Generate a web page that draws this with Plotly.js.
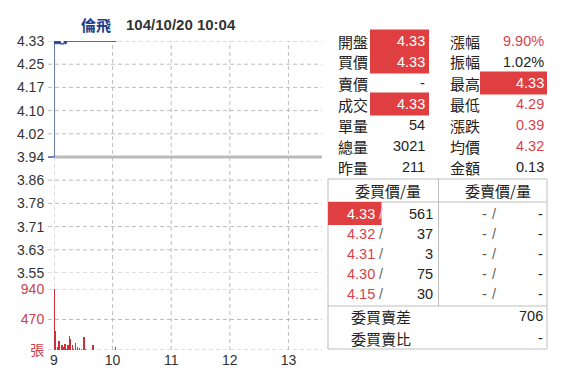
<!DOCTYPE html>
<html>
<head>
<meta charset="utf-8">
<script src="https://cdn.plot.ly/plotly-3.0.1.min.js"></script>
<style>
  html, body { margin: 0; padding: 0; background: #fff; }
  #chart { width: 579px; height: 374px; }
</style>
</head>
<body>
<div id="chart"></div>
<script>
// ---------------- data ----------------
const stockName = '倫飛';
const stamp = '104/10/20 10:04';
const prevClose = 3.94;
const limitUp = 4.33;

const hourTicks = [9, 10, 11, 12, 13];
const priceTicks = [3.55, 3.628, 3.706, 3.784, 3.862, 3.94, 4.018, 4.096, 4.174, 4.252, 4.33];
const priceTickLabels = ['3.55', '3.63', '3.71', '3.78', '3.86', '3.94', '4.02', '4.10', '4.17', '4.25', '4.33'];
const volTicks = [0, 470, 940];
const volTickLabels = ['張', '470', '940'];

// intraday price (time hh:mm, price)
const priceTimes = ['9:00', '9:00', '9:01', '9:02', '9:03', '9:04', '9:05', '9:06', '9:07', '9:08', '9:09', '9:10', '9:11', '9:12', '9:13', '10:04'];
const priceValues = [3.94, 4.33, 4.32, 4.33, 4.32, 4.33, 4.32, 4.33, 4.32, 4.32, 4.32, 4.32, 4.33, 4.32, 4.33, 4.33];

// per-minute volume (張)
const volTimes = ['9:00', '9:01', '9:04', '9:05', '9:08', '9:09', '9:11', '9:13', '9:14', '9:16', '9:17', '9:19', '9:20', '9:22', '9:24', '9:26', '9:28', '9:31', '9:32', '9:40', '10:03'];
const volValues = [940, 290, 40, 135, 80, 50, 85, 20, 70, 215, 165, 75, 20, 110, 50, 25, 15, 195, 15, 80, 54];

// quote panel
const quoteLabelsL = ['開盤', '買價', '賣價', '成交', '單量', '總量', '昨量'];
const quoteValuesL = ['4.33', '4.33', '-', '4.33', '54', '3021', '211'];
const quoteKindsL = ['price', 'price', 'price', 'price', 'other', 'other', 'other'];
const quoteLabelsR = ['漲幅', '振幅', '最高', '最低', '漲跌', '均價', '金額'];
const quoteValuesR = ['9.90%', '1.02%', '4.33', '4.29', '0.39', '4.32', '0.13'];
const quoteKindsR = ['change', 'other', 'price', 'price', 'change', 'price', 'other'];

const bookHeaders = ['委買價/量', '委賣價/量'];
const bidPrices = ['4.33', '4.32', '4.31', '4.30', '4.15'];
const bidVols = ['561', '37', '3', '75', '30'];
const askPrices = ['-', '-', '-', '-', '-'];
const askVols = ['-', '-', '-', '-', '-'];
const summaryLabels = ['委買賣差', '委買賣比'];
const summaryValues = ['706', '-'];

// ---------------- helpers ----------------
const toHour = s => { const [h, m] = s.split(':').map(Number); return h + m / 60; };

const L = 54, R = 322, T = 41, B = 350;
const W = R - L, H = B - T;
const px = x => (x - L) / W;
const py = y => (B - y) / H;

const RED = '#d8434b';
const BOX = '#e03f42';
const DARK = '#222';
const GRID = '#bdbdbd';
const DASH = '4px,3px';
const LINE = '#bdbdbd';
const FONT = 'Liberation Sans, Arial, Noto Sans CJK TC, sans-serif';
const CJK = 'Noto Sans CJK TC, Liberation Sans, sans-serif';

const annotations = [];
const shapes = [];

function txt(text, x, y, anchor, color, size, family, bold) {
  annotations.push({
    text: bold ? '<b>' + text + '</b>' : text,
    xref: 'paper', yref: 'paper', x: px(x), y: py(y),
    xanchor: anchor, yanchor: 'middle', showarrow: false,
    borderpad: 0,
    font: { color: color, size: size, family: family }
  });
}
function rect(x0, y0, x1, y1, fill, lineColor) {
  shapes.push({
    type: 'rect', xref: 'paper', yref: 'paper',
    x0: px(x0), x1: px(x1), y0: py(y0), y1: py(y1),
    fillcolor: fill || 'rgba(0,0,0,0)',
    line: { width: lineColor ? 1 : 0, color: lineColor || 'rgba(0,0,0,0)' },
    layer: 'above'
  });
}
function hline(x0, x1, y, color) {
  shapes.push({ type: 'line', xref: 'paper', yref: 'paper', x0: px(x0), x1: px(x1), y0: py(y), y1: py(y), line: { width: 1, color: color } });
}
function vline(x, y0, y1, color) {
  shapes.push({ type: 'line', xref: 'paper', yref: 'paper', x0: px(x), x1: px(x), y0: py(y0), y1: py(y1), line: { width: 1, color: color } });
}
function valueStyle(val, kind) {
  if (val === '-') return { color: DARK, box: false };
  const v = parseFloat(val);
  if (kind === 'price') {
    if (v === limitUp) return { color: '#ffffff', box: true };
    return { color: v > prevClose ? RED : (v < prevClose ? '#1a8a3a' : DARK), box: false };
  }
  if (kind === 'change') return { color: v > 0 ? RED : (v < 0 ? '#1a8a3a' : DARK), box: false };
  return { color: DARK, box: false };
}

// ---------------- title ----------------
txt(stockName, 80, 24, 'left', '#1f3d8c', 15, CJK, true);
txt(stamp, 125, 24, 'left', '#333333', 15, FONT, true);

// ---------------- quote panel ----------------
const rowY = i => 41 + 21 * i;
quoteLabelsL.forEach((lab, i) => {
  const y = rowY(i);
  txt(lab, 337, y, 'left', DARK, 15, CJK);
  const st = valueStyle(quoteValuesL[i], quoteKindsL[i]);
  if (st.box) rect(370, y - 11.5, 429, y + 11.5, BOX);
  txt(quoteValuesL[i], 426, y, 'right', st.color, 14.5, FONT);
});
quoteLabelsR.forEach((lab, i) => {
  const y = rowY(i);
  txt(lab, 449, y, 'left', DARK, 15, CJK);
  const st = valueStyle(quoteValuesR[i], quoteKindsR[i]);
  if (st.box) rect(480, y - 11.5, 547, y + 11.5, BOX);
  txt(quoteValuesR[i], 545, y, 'right', st.color, 14.5, FONT);
});

// ---------------- order book table ----------------
rect(328, 179, 547, 349, null, LINE);
hline(328, 547, 202, LINE);
hline(328, 547, 306, LINE);
vline(438.5, 179, 306, LINE);
txt(bookHeaders[0], 388, 190.5, 'center', DARK, 15, CJK);
txt(bookHeaders[1], 498, 190.5, 'center', DARK, 15, CJK);

bidPrices.forEach((p, i) => {
  const y = 213.5 + 20 * i;
  const st = valueStyle(p, 'price');
  if (st.box) rect(328, y - 11.5, 381.5, y + 11.5, BOX);
  txt(p, 376, y, 'right', st.color, 14.5, FONT);
  txt('/', 381, y, 'center', st.box ? '#f3d6d6' : '#666', 14.5, FONT);
  txt(bidVols[i], 434, y, 'right', DARK, 14.5, FONT);
  txt(askPrices[i], 488, y, 'right', '#555', 14.5, FONT);
  txt('/', 494, y, 'center', '#666', 14.5, FONT);
  txt(askVols[i], 544, y, 'right', DARK, 14.5, FONT);
});
summaryLabels.forEach((lab, i) => {
  const y = 316 + 22 * i;
  txt(lab, 350, y, 'left', DARK, 15, CJK);
  txt(summaryValues[i], 544, y, 'right', DARK, 14.5, FONT);
});

// ---------------- chart grid & reference line ----------------
const leftStub = -6 / W;
hourTicks.forEach(h => {
  shapes.push({
    type: 'line', xref: 'x', yref: 'paper', x0: h, x1: h, y0: 0, y1: 1,
    line: { color: GRID, width: 1, dash: DASH }, layer: 'below'
  });
});
priceTicks.forEach(v => {
  if (v === prevClose) return;
  shapes.push({
    type: 'line', xref: 'paper', yref: 'y', x0: leftStub, x1: 1, y0: v, y1: v,
    line: { color: GRID, width: 1, dash: DASH }, layer: 'below'
  });
});
volTicks.forEach(v => {
  shapes.push({
    type: 'line', xref: 'paper', yref: 'y2', x0: leftStub, x1: 1, y0: v, y1: v,
    line: { color: GRID, width: 1, dash: DASH }, layer: 'below'
  });
});
shapes.push({
  type: 'line', xref: 'paper', yref: 'y', x0: 0, x1: 1, y0: prevClose, y1: prevClose,
  line: { color: '#bbbbbb', width: 3 }, layer: 'below'
});
shapes.push({
  type: 'line', xref: 'paper', yref: 'y', x0: leftStub, x1: 0, y0: prevClose, y1: prevClose,
  line: { color: '#23408e', width: 1.3 }, layer: 'below'
});

// ---------------- traces ----------------
const priceTrace = {
  type: 'scatter', mode: 'lines',
  x: priceTimes.map(toHour), y: priceValues,
  line: { color: '#23408e', width: 1.3, shape: 'linear' },
  xaxis: 'x', yaxis: 'y', hoverinfo: 'skip'
};
const volTrace = {
  type: 'bar',
  x: volTimes.map(toHour), y: volValues,
  width: 1.7 / 60,
  marker: { color: '#cf2f38', line: { width: 0 } },
  xaxis: 'x', yaxis: 'y2', hoverinfo: 'skip'
};

const layout = {
  width: 579, height: 374,
  margin: { l: L, r: 579 - R, t: T, b: 374 - B, pad: 0 },
  paper_bgcolor: '#ffffff', plot_bgcolor: 'rgba(0,0,0,0)',
  showlegend: false,
  font: { family: FONT, size: 14, color: '#333' },
  xaxis: {
    anchor: 'y2',
    range: [9, 13.573], tickvals: hourTicks, ticktext: hourTicks.map(String),
    showgrid: false, zeroline: false, showline: false, ticks: '',
    tickfont: { size: 14, color: '#333', family: FONT }, fixedrange: true
  },
  yaxis: {
    anchor: 'x',
    domain: [py(273), 1], range: [3.55, 4.33],
    tickvals: priceTicks, ticktext: priceTickLabels,
    showgrid: false, zeroline: false, showline: false,
    ticks: 'outside', ticklen: 6, tickcolor: 'rgba(0,0,0,0)',
    tickfont: { size: 14, color: '#333', family: FONT }, fixedrange: true
  },
  yaxis2: {
    anchor: 'x',
    domain: [0, py(289)], range: [0, 940],
    tickvals: volTicks, ticktext: volTickLabels,
    showgrid: false, zeroline: false, showline: false,
    ticks: 'outside', ticklen: 6, tickcolor: 'rgba(0,0,0,0)',
    tickfont: { size: 14, color: '#c8414b', family: 'Liberation Sans, Noto Sans CJK TC, sans-serif' }, fixedrange: true
  },
  bargap: 0,
  shapes: shapes,
  annotations: annotations
};

Plotly.newPlot('chart', [volTrace, priceTrace], layout, { staticPlot: true, displayModeBar: false });
</script>
</body>
</html>
